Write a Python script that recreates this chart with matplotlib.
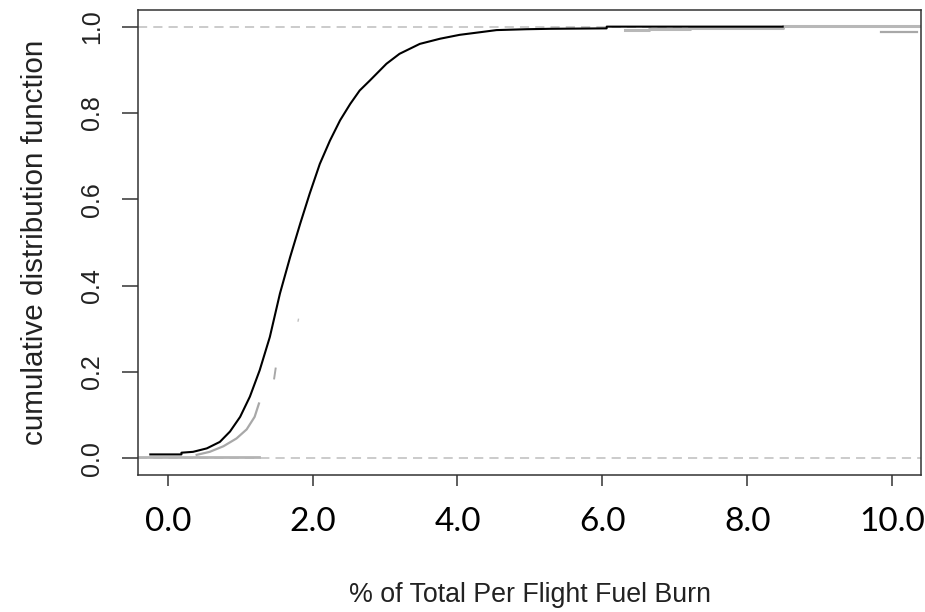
import numpy as np
import matplotlib
matplotlib.use("Agg")
import matplotlib.pyplot as plt
from matplotlib import font_manager as fm

# black ECDF curve
cdf_x = [-0.24, 0.19, 0.19, 0.35, 0.54, 0.72, 0.86, 1.00, 1.135, 1.27, 1.41, 1.55,
         1.69, 1.83, 1.96, 2.10, 2.24, 2.38, 2.52, 2.65, 2.79, 3.02, 3.20, 3.48,
         3.76, 4.03, 4.31, 4.54, 4.95, 5.28, 6.06, 6.06, 8.49]
cdf_y = [0.009, 0.009, 0.013, 0.015, 0.023, 0.038, 0.062, 0.096, 0.143, 0.204, 0.281, 0.382,
         0.466, 0.544, 0.613, 0.682, 0.736, 0.783, 0.821, 0.852, 0.875, 0.914, 0.937, 0.960,
         0.972, 0.981, 0.987, 0.992, 0.994, 0.995, 0.996, 1.000, 1.000]

# grey fragments of the other curves
grey_low_x = [-0.40, 1.26]
grey_low_y = [0.004, 0.004]
grey_curve_x = [0.40, 0.58, 0.77, 0.95, 1.09, 1.20, 1.26]
grey_curve_y = [0.008, 0.015, 0.028, 0.046, 0.067, 0.096, 0.127]
grey_frag_x = [1.47, 1.49]
grey_frag_y = [0.185, 0.208]
grey_dot_x = [1.80, 1.805]
grey_dot_y = [0.318, 0.322]
grey_top_x = [6.31, 6.65, 6.65, 7.21, 7.21, 8.49, 8.49, 10.40]
grey_top_y = [0.992, 0.992, 0.9945, 0.9945, 0.998, 0.998, 1.001, 1.001]
grey_tail_x = [9.85, 10.35]
grey_tail_y = [0.987, 0.987]

x_ticks = [0, 2, 4, 6, 8, 10]
x_labels = ["0.0", "2.0", "4.0", "6.0", "8.0", "10.0"]
y_ticks = [0.0, 0.2, 0.4, 0.6, 0.8, 1.0]
y_labels = ["0.0", "0.2", "0.4", "0.6", "0.8", "1.0"]


def has_font(name):
    try:
        fm.findfont(fm.FontProperties(family=name), fallback_to_default=False)
        return True
    except ValueError:
        return False


if has_font("Liberation Sans Narrow"):
    rfont, k = "Liberation Sans Narrow", 1.0
else:
    rfont, k = "Liberation Sans", 0.82

fig = plt.figure(figsize=(9.25, 6.12), dpi=100)
ax = fig.add_axes([0.1495, 0.2239, 0.8462, 0.7598])

ax.axhline(0, color="#bdbdbd", lw=1.1, ls=(0, (6, 4)), zorder=1)
ax.axhline(1, color="#bdbdbd", lw=1.1, ls=(0, (6, 4)), zorder=1)

ax.plot(grey_low_x, grey_low_y, color="#b4b4b4", lw=2.0, zorder=2)
ax.plot(grey_curve_x, grey_curve_y, color="#a8a8a8", lw=1.6, zorder=2)
ax.plot(grey_frag_x, grey_frag_y, color="#a8a8a8", lw=1.4, zorder=2)
ax.plot(grey_dot_x, grey_dot_y, color="#c0c0c0", lw=1.0, zorder=2)
ax.plot(grey_top_x, grey_top_y, color="#b8b8b8", lw=2.2, zorder=2)
ax.plot(grey_tail_x, grey_tail_y, color="#a8a8a8", lw=1.6, zorder=2)

ax.plot(cdf_x, cdf_y, color="black", lw=1.5, zorder=3)

ax.set_xlim(-0.406, 10.40)
ax.set_ylim(-0.0386, 1.0386)

ax.set_xticks(x_ticks)
ax.set_xticklabels(x_labels, family="Lato", fontsize=24)
ax.set_yticks(y_ticks)
ax.set_yticklabels(y_labels, family=rfont, fontsize=22 * k, rotation=90,
                   va="center", color="#222222")
ax.tick_params(axis="x", length=8, width=1.1, pad=15, color="#333333")
ax.tick_params(axis="y", length=11.5, width=1.1, pad=13, color="#333333")

for s in ax.spines.values():
    s.set_linewidth(1.1)
    s.set_color("#333333")

ax.set_ylabel("cumulative distribution function", family=rfont, fontsize=26 * k,
              va="center", color="#222222")
ax.yaxis.set_label_coords(-0.132, 0.5)
ax.set_xlabel("% of Total Per Flight Fuel Burn", family=rfont, fontsize=23.5 * k,
              va="top", color="#222222")
ax.xaxis.set_label_coords(0.5, -0.230)

fig.savefig("out.png", dpi=100)
